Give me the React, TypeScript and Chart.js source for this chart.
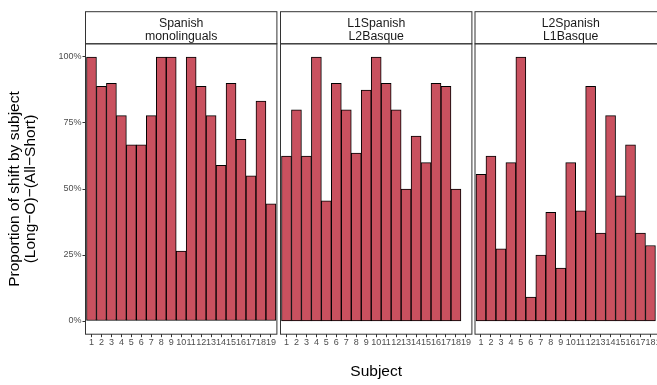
import React, { useEffect, useRef } from "react";
import { Chart, registerables } from "chart.js";

Chart.register(...registerables);

// Subjects on the x axis (shared by every facet)
const subjects = [
  "1", "2", "3", "4", "5", "6", "7", "8", "9", "10",
  "11", "12", "13", "14", "15", "16", "17", "18", "19",
];

// Facet titles (two lines each)
const spanishMonolingualsTitle = ["Spanish", "monolinguals"];
const l1SpanishL2BasqueTitle = ["L1Spanish", "L2Basque"];
const l2SpanishL1BasqueTitle = ["L2Spanish", "L1Basque"];

// Proportion of shift per subject, in percent (null = no observation)
const spanishMonolinguals = [
  100, 88.9, 90, 77.8, 66.7, 66.7, 77.8, 100, 100, 26.5,
  100, 88.9, 77.8, 59, 90, 68.8, 55, 83.3, 44.4,
];
const l1SpanishL2Basque = [
  62.5, 80, 62.5, 100, 45.5, 90, 80, 63.6, 87.5, 100,
  90, 80, 50, 70, 60, 90, 88.9, 50, null,
];
const l2SpanishL1Basque = [
  55.6, 62.5, 27.3, 60, 100, 9.1, 25, 41.2, 20, 60,
  41.7, 88.9, 33.3, 77.8, 47.4, 66.7, 33.3, 28.6, null,
];

// Y axis ticks (percent)
const yTicks = [0, 25, 50, 75, 100];

const yTitle = ["Proportion of shift by subject", "(Long\u2212O)\u2212(All\u2212Short)"];
const xTitle = "Subject";

// Styling / layout
const FONT = "'Liberation Sans', Arial, Helvetica, sans-serif";
const BAR_FILL = "#C9515F";
const BAR_EDGE = "#000000";
const FRAME = "#333333";
const AXIS_TEXT = "#4d4d4d";
const W = 657;
const H = 385;
const STRIP_TOP = 11.7;
const PANEL_TOP = 43.8;
const PANEL_BOTTOM = 334.2;
const PANEL_W = 191.4;
const PANEL_LEFTS = [85.5, 280.5, 475];

Chart.defaults.font.family = FONT;

type Facet = {
  title: string[];
  values: (number | null)[];
};

const facets: Facet[] = [
  { title: spanishMonolingualsTitle, values: spanishMonolinguals },
  { title: l1SpanishL2BasqueTitle, values: l1SpanishL2Basque },
  { title: l2SpanishL1BasqueTitle, values: l2SpanishL1Basque },
];

function framePlugin(lines: string[]) {
  return {
    id: "facetFrame",
    afterDatasetsDraw(chart: any) {
      const { ctx, chartArea: a } = chart;
      ctx.save();
      ctx.strokeStyle = FRAME;
      ctx.lineWidth = 1;
      // strip
      ctx.fillStyle = "#ffffff";
      ctx.fillRect(a.left, STRIP_TOP, a.right - a.left, a.top - STRIP_TOP);
      ctx.strokeRect(a.left, STRIP_TOP, a.right - a.left, a.top - STRIP_TOP);
      // panel border
      ctx.strokeRect(a.left, a.top, a.right - a.left, a.bottom - a.top);
      // strip label
      ctx.fillStyle = "#1a1a1a";
      ctx.font = `12.3px ${FONT}`;
      ctx.textAlign = "center";
      ctx.textBaseline = "alphabetic";
      const cx = (a.left + a.right) / 2;
      ctx.fillText(lines[0], cx, 27.2);
      ctx.fillText(lines[1], cx, 39.6);
      ctx.restore();
    },
  };
}

function FacetChart({ facet, index }: { facet: Facet; index: number }) {
  const ref = useRef<HTMLCanvasElement | null>(null);

  const panelLeft = PANEL_LEFTS[index];
  const canvasLeft = index === 0 ? 0 : Math.floor(panelLeft - 4);
  const canvasWidth = index === 0 ? Math.ceil(panelLeft + PANEL_W + 3) : 200;
  const padLeft = index === 0 ? 0 : panelLeft - canvasLeft;
  const padRight = canvasLeft + canvasWidth - (panelLeft + PANEL_W);
  const showY = index === 0;

  useEffect(() => {
    if (!ref.current) return;
    const chart = new Chart(ref.current, {
      type: "bar",
      data: {
        datasets: [
          {
            data: facet.values.map((v, i) => ({ x: i + 1, y: v })) as any,
            backgroundColor: BAR_FILL,
            borderColor: BAR_EDGE,
            borderWidth: 1,
            borderSkipped: false,
            barPercentage: 1,
            categoryPercentage: 1,
          },
        ],
      },
      options: {
        responsive: false,
        animation: false,
        devicePixelRatio: 1,
        layout: {
          padding: { left: padLeft, right: padRight, top: PANEL_TOP, bottom: 0 },
        },
        plugins: {
          legend: { display: false },
          tooltip: { enabled: false },
        },
        scales: {
          x: {
            type: "linear",
            min: 0.4,
            max: 19.6,
            offset: false,
            afterBuildTicks: (s: any) => {
              s.ticks = subjects.map((_, i) => ({ value: i + 1 }));
            },
            afterFit: (s: any) => {
              s.height = H - PANEL_BOTTOM;
            },
            ticks: {
              autoSkip: false,
              maxRotation: 0,
              minRotation: 0,
              padding: 0,
              color: AXIS_TEXT,
              font: { size: 9 },
              callback: (v: any) => subjects[Math.round(Number(v)) - 1],
            },
            grid: {
              offset: false,
              drawOnChartArea: false,
              drawTicks: true,
              tickLength: 3,
              color: FRAME,
            },
            border: { display: false },
            title: {
              display: index === 1,
              text: xTitle,
              color: "#000000",
              font: { size: 15.5, lineHeight: 1 },
              padding: { top: 0, bottom: 5.5 },
            },
          },
          y: {
            min: -5,
            max: 105,
            display: showY,
            afterBuildTicks: (s: any) => {
              s.ticks = yTicks.map((v) => ({ value: v }));
            },
            afterFit: (s: any) => {
              if (showY) s.width = panelLeft;
            },
            ticks: {
              color: AXIS_TEXT,
              font: { size: 9 },
              padding: 1,
              callback: (v: any) => `${v}%`,
            },
            grid: {
              drawOnChartArea: false,
              drawTicks: true,
              tickLength: 3,
              color: FRAME,
            },
            border: { display: false },
            title: {
              display: showY,
              text: yTitle,
              color: "#000000",
              font: { size: 15.5, lineHeight: 1 },
              padding: { top: 7.2, bottom: 0 },
            },
          },
        },
      },
      plugins: [framePlugin(facet.title)],
    });
    return () => chart.destroy();
  }, [facet, index]);

  return (
    <canvas
      ref={ref}
      width={canvasWidth}
      height={H}
      style={{
        position: "absolute",
        left: canvasLeft,
        top: 0,
        width: canvasWidth,
        height: H,
      }}
    />
  );
}

export default function App() {
  return (
    <div
      style={{
        position: "absolute",
        left: 0,
        top: 0,
        width: W,
        height: H,
        overflow: "hidden",
        background: "#ffffff",
      }}
    >
      {facets.map((f, i) => (
        <FacetChart key={i} facet={f} index={i} />
      ))}
    </div>
  );
}
